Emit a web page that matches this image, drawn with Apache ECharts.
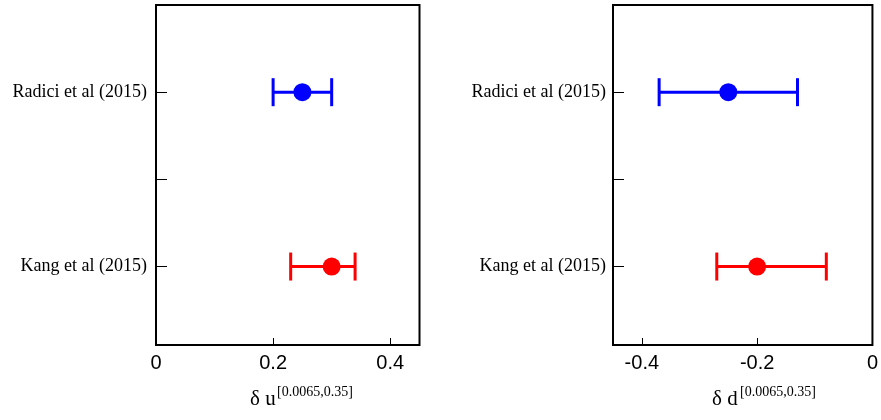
<!DOCTYPE html>
<html>
<head>
<meta charset="utf-8">
<script src="https://cdn.jsdelivr.net/npm/echarts@6/dist/echarts.min.js"></script>
<style>html,body{margin:0;padding:0;background:#fff}#c{width:881px;height:420px}</style>
</head>
<body>
<div id="c"></div>
<script>
// Data
const categories = ['Kang et al (2015)', 'Radici et al (2015)'];
const colors = ['red', 'blue'];
// δu panel
const uCenter = [0.30, 0.25];
const uLow = [0.23, 0.20];
const uHigh = [0.34, 0.30];
// δd panel
const dCenter = [-0.20, -0.25];
const dLow = [-0.27, -0.37];
const dHigh = [-0.08, -0.13];
const uTicks = [0, 0.2, 0.4];
const dTicks = [-0.4, -0.2, 0];

const chart = echarts.init(document.getElementById('c'));

function errData(c, lo, hi) {
  return categories.map((_, i) => ({ value: [c[i], i, lo[i], hi[i]], itemStyle: { color: colors[i] } }));
}
function ptData(c) {
  return categories.map((_, i) => ({ value: [c[i], i], itemStyle: { color: colors[i], opacity: 1 } }));
}
function renderErr(params, api) {
  const y = api.value(1);
  const p1 = api.coord([api.value(2), y]);
  const p2 = api.coord([api.value(3), y]);
  const col = api.visual('color');
  const h = 14;
  const st = { stroke: col, lineWidth: 3 };
  return {
    type: 'group',
    children: [
      { type: 'line', shape: { x1: p1[0], y1: p1[1], x2: p2[0], y2: p2[1] }, style: st },
      { type: 'line', shape: { x1: p1[0], y1: p1[1] - h, x2: p1[0], y2: p1[1] + h }, style: st },
      { type: 'line', shape: { x1: p2[0], y1: p2[1] - h, x2: p2[0], y2: p2[1] + h }, style: st }
    ]
  };
}

const gridBase = { top: 5, bottom: 75, show: true, borderColor: '#000', borderWidth: 2, backgroundColor: 'transparent' };
function xAxis(idx, min, max, ticks) {
  return {
    type: 'value', gridIndex: idx, min: min, max: max, position: 'bottom',
    axisLine: { show: false, onZero: false }, splitLine: { show: false },
    axisTick: { show: true, inside: true, length: 7, customValues: ticks, lineStyle: { color: '#000', width: 1 } },
    axisLabel: { show: true, customValues: ticks, margin: 8, color: '#000', fontFamily: 'Liberation Sans, Arial, sans-serif', fontSize: 20,
      formatter: v => (Math.abs(v) < 1e-9 ? '0' : String(Math.round(v * 10) / 10)) }
  };
}
function yAxis(idx, margin) {
  return {
    type: 'value', gridIndex: idx, min: -0.45, max: 1.5, position: 'left',
    axisLine: { show: false, onZero: false }, splitLine: { show: false },
    axisTick: { show: true, inside: true, length: 11, customValues: [0, 0.5, 1], lineStyle: { color: '#000', width: 1 } },
    axisLabel: { show: true, customValues: [0, 1], margin: margin, color: '#000', fontFamily: 'Liberation Serif, Times New Roman, serif', fontSize: 18,
      formatter: v => categories[Math.round(v)] }
  };
}

chart.setOption({
  animation: false,
  backgroundColor: '#fff',
  grid: [
    Object.assign({ left: 156, right: 461.5 }, gridBase),
    Object.assign({ left: 613, right: 5 }, gridBase)
  ],
  xAxis: [xAxis(0, 0, 0.45, uTicks), xAxis(1, -0.45, 0, dTicks)],
  yAxis: [yAxis(0, 9), yAxis(1, 7)],
  series: [
    { type: 'custom', xAxisIndex: 0, yAxisIndex: 0, renderItem: renderErr, data: errData(uCenter, uLow, uHigh), z: 2 },
    { type: 'scatter', xAxisIndex: 0, yAxisIndex: 0, symbol: 'circle', symbolSize: 18, itemStyle: { opacity: 1 }, data: ptData(uCenter), z: 3 },
    { type: 'custom', xAxisIndex: 1, yAxisIndex: 1, renderItem: renderErr, data: errData(dCenter, dLow, dHigh), z: 2 },
    { type: 'scatter', xAxisIndex: 1, yAxisIndex: 1, symbol: 'circle', symbolSize: 18, itemStyle: { opacity: 1 }, data: ptData(dCenter), z: 3 }
  ],
  graphic: [
    { type: 'text', left: 250, top: 389, style: { text: 'δ u', font: '21px "Liberation Serif", serif', fill: '#000' } },
    { type: 'text', left: 277, top: 385, style: { text: '[0.0065,0.35]', font: '14px "Liberation Serif", serif', fill: '#000' } },
    { type: 'text', left: 712, top: 389, style: { text: 'δ d', font: '21px "Liberation Serif", serif', fill: '#000' } },
    { type: 'text', left: 740, top: 385, style: { text: '[0.0065,0.35]', font: '14px "Liberation Serif", serif', fill: '#000' } }
  ]
});
</script>
</body>
</html>
